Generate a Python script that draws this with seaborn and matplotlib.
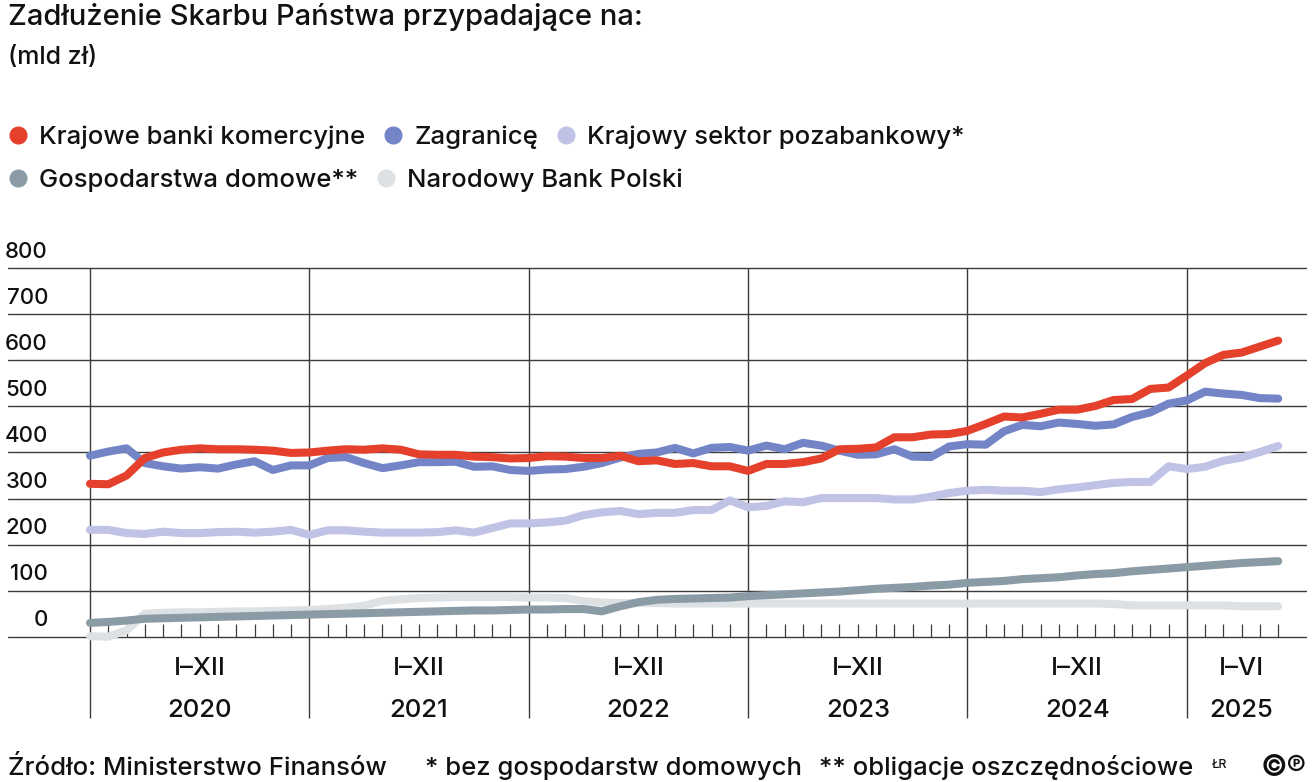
import numpy as np
import pandas as pd
import matplotlib
matplotlib.use("Agg")
import matplotlib.pyplot as plt
import matplotlib.transforms as mtransforms
from matplotlib.lines import Line2D
import seaborn as sns

# Debt of the State Treasury by holder, monthly I 2020 - VI 2025 (mld zł)
banki = [332, 331, 350, 388, 400, 406, 409, 407, 407, 406, 404, 399,
         400, 404, 407, 406, 409, 406, 396, 395, 395, 391, 390, 387,
         388, 392, 391, 388, 388, 393, 381, 383, 375, 377, 370, 370,
         360, 375, 375, 379, 387, 407, 408, 411, 433, 433, 439, 440,
         447, 462, 478, 476, 484, 493, 493, 501, 514, 516, 538, 541,
         567, 594, 612, 617, 630, 643]
zagranica = [393, 402, 409, 377, 370, 365, 368, 365, 374, 381, 362, 372,
             372, 388, 390, 377, 366, 372, 379, 379, 380, 369, 370, 362,
             360, 363, 364, 369, 377, 389, 397, 400, 410, 398, 410, 412,
             404, 415, 407, 421, 415, 404, 395, 396, 407, 391, 390, 413,
             418, 417, 446, 460, 457, 465, 462, 458, 461, 477, 487, 506,
             513, 532, 528, 525, 518, 517]
pozabankowy = [232, 232, 225, 223, 228, 225, 225, 227, 228, 226, 228, 232,
               221, 231, 231, 228, 226, 226, 226, 227, 231, 226, 236, 246,
               246, 248, 252, 264, 270, 273, 266, 269, 269, 275, 275, 296,
               281, 284, 294, 292, 301, 301, 301, 301, 298, 298, 304, 312,
               317, 319, 317, 317, 314, 320, 324, 329, 334, 336, 336, 370,
               364, 369, 382, 389, 401, 414]
gospodarstwa = [30, 32, 35, 39, 40, 41, 42, 43, 44, 45, 46, 47,
                48, 49, 50, 51, 52, 53, 54, 55, 56, 57, 57, 58,
                59, 59, 60, 60, 55, 66, 75, 80, 82, 83, 84, 85,
                88, 90, 92, 94, 96, 98, 101, 104, 106, 108, 111, 113,
                117, 119, 121, 125, 127, 129, 133, 136, 138, 142, 145, 148,
                151, 154, 157, 160, 162, 164]
nbp = [1, 0, 14, 50, 52, 53, 53, 54, 55, 55, 56, 57,
       58, 60, 63, 67, 78, 81, 84, 85, 86, 86, 86, 86,
       85, 85, 84, 77, 74, 73, 73, 73, 72, 72, 72, 72,
       72, 72, 72, 72, 72, 72, 72, 72, 72, 72, 72, 72,
       72, 72, 72, 72, 72, 72, 72, 72, 71, 68, 68, 68,
       68, 68, 68, 66, 66, 66]

series_names = ["Krajowe banki komercyjne", "Zagranicę", "Krajowy sektor pozabankowy*",
                "Gospodarstwa domowe**", "Narodowy Bank Polski"]
colors = ["#e4402b", "#7384c7", "#c0c2e6", "#8b9ba6", "#dde1e4"]
years = ["2020", "2021", "2022", "2023", "2024", "2025"]
periods = ["I–XII", "I–XII", "I–XII", "I–XII", "I–XII", "I–VI"]
y_ticks = [0, 100, 200, 300, 400, 500, 600, 700, 800]

sns.set_theme(style="white")
plt.rcParams["font.family"] = ["Inter", "DejaVu Sans"]
plt.rcParams["font.weight"] = "medium"
plt.rcParams["text.color"] = "#111111"

n = len(banki)
df = pd.DataFrame({"miesiac": np.arange(n)})
for name, vals in zip(series_names, [banki, zagranica, pozabankowy, gospodarstwa, nbp]):
    df[name] = vals
long = df.melt(id_vars="miesiac", var_name="seria", value_name="mld")

W, H = 1316, 782
fig = plt.figure(figsize=(W / 100, H / 100), dpi=100)
ax = fig.add_axes([8 / W, 1 - 720 / H, 1299 / W, 480 / H])

grid_col = "#3c3c3c"
for v in y_ticks:
    ax.axhline(v, color=grid_col, lw=1.0, zorder=1)
year_starts = [12 * i for i in range(len(years))]
ax.vlines(year_starts, -177, 800, color=grid_col, lw=1.0, zorder=1)
month_ticks = [m for m in range(1, n) if m % 12]
ax.vlines(month_ticks, 0, 27, color=grid_col, lw=0.9, zorder=1)

sns.lineplot(data=long, x="miesiac", y="mld", hue="seria",
             hue_order=series_names[::-1], palette=dict(zip(series_names, colors)),
             linewidth=5.8, legend=False, ax=ax, zorder=3,
             solid_capstyle="round", solid_joinstyle="round")

ax.set_xlim(-4.486, 66.575)
ax.set_ylim(-180.9, 861.4)
ax.axis("off")

# y labels sit above their gridlines
trans = mtransforms.blended_transform_factory(ax.transAxes, ax.transData)
for v in y_ticks:
    ax.text(40 / 1299, v + 23, str(v), transform=trans, ha="right", va="baseline", fontsize=16)

# year labels
for i, (yr, per) in enumerate(zip(years, periods)):
    start = year_starts[i]
    end = min(start + 12, n)
    c = (start + end) / 2
    ax.text(c, -68, per, ha="center", va="center", fontsize=18.5)
    ax.text(c, -161, yr, ha="center", va="center", fontsize=18.5)

fig.text(8 / W, 1 - 25 / H, "Zadłużenie Skarbu Państwa przypadające na:", fontsize=21, va="baseline")
fig.text(8 / W, 1 - 64 / H, "(mld zł)", fontsize=18, va="baseline")

handles = [Line2D([], [], marker="o", ls="", color=c, markersize=12) for c in colors]
leg_kw = dict(loc="center left", frameon=False, fontsize=18.5, handlelength=0.75,
              handletextpad=0.45, columnspacing=0.72, borderaxespad=0, borderpad=0)
fig.legend(handles[:3], series_names[:3], bbox_to_anchor=(8 / W, 1 - 137 / H), ncol=3, **leg_kw)
fig.legend(handles[3:], series_names[3:], bbox_to_anchor=(8 / W, 1 - 180 / H), ncol=2, **leg_kw)

fy = 1 - 768 / H
fig.text(8 / W, fy, "Źródło: Ministerstwo Finansów", fontsize=18.5, va="center")
fig.text(425 / W, fy, "* bez gospodarstw domowych", fontsize=18.5, va="center")
fig.text(819 / W, fy, "** obligacje oszczędnościowe", fontsize=18.5, va="center")
fig.text(1212 / W, fy + 0.004, "ŁR", fontsize=9, va="center")
fig.text(1261 / W, fy, "©℗", fontsize=21, fontweight="bold", va="center")

fig.savefig("out.png", dpi=100, facecolor="white")
